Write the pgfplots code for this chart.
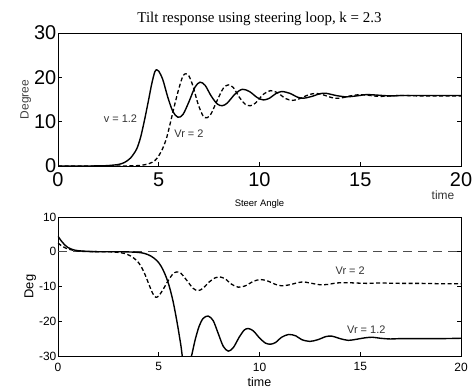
\documentclass[border=0pt]{standalone}
\usepackage{fontspec}
\setmainfont{Liberation Sans}
\newfontfamily\serifttl{Liberation Serif}
\usepackage{pgfplots}
\pgfplotsset{compat=1.18}
\begin{document}
\begin{tikzpicture}
\path[use as bounding box] (0bp,0bp) rectangle (472bp,389bp);
\pgfplotsset{
  common/.style={
    scale only axis, width=403bp, anchor=south west,
    xmin=0, xmax=20, xtick={0,5,10,15,20},
    tick align=inside, tick pos=both, major tick length=4bp,
    axis line style={line width=0.9pt}, every tick/.style={black, line width=0.8pt},
    /pgf/number format/assume math mode=true,
    clip=true,
    xtick pos=bottom,
  },
}
\begin{axis}[common, at={(58bp,223bp)}, height=133bp,
  ymin=0, ymax=30, ytick={0,10,20,30},
  ticklabel style={font=\fontsize{20}{20}\selectfont, inner sep=1.5pt},
  xticklabel style={yshift=-5bp},
  ylabel={Degree}, ylabel style={font=\fontsize{12}{12}\selectfont, text=black!75, yshift=-2bp},
  title={\serifttl Tilt response using steering loop, k = 2.3},
  title style={font=\fontsize{15}{15}\selectfont, yshift=-2bp},
]
\addplot[black, line width=1.4pt, smooth, tension=0.5] coordinates {
(0,0) (1,0) (2,0.02) (2.5,0.1) (3,0.35) (3.3,0.8) (3.6,1.8) (3.9,3.8) (4.1,6.5) (4.3,10.5) (4.5,15) (4.65,18.5) (4.8,21.2) (4.9,21.7) (5.0,21.4) (5.2,19.5) (5.45,15.5) (5.7,12.3) (5.95,11) (6.2,11.6) (6.5,14.5) (6.8,17.8) (7.05,18.9) (7.3,18.2) (7.6,15.8) (7.9,14) (8.15,13.6) (8.4,14.2) (8.8,16.3) (9.15,17.3) (9.5,16.8) (9.9,15.4) (10.2,14.9) (10.5,15.3) (10.8,16.3) (11.1,16.8) (11.5,16.4) (11.9,15.5) (12.2,15.3) (12.6,15.7) (13.0,16.3) (13.3,16.4) (13.8,15.9) (14.3,15.6) (14.8,15.8) (15.3,16.1) (15.8,16.0) (16.5,15.8) (17,15.9) (18,15.9) (19,15.9) (20,15.9)
};
\addplot[black, line width=1.3pt, dash pattern=on 4bp off 2.5bp, smooth, tension=0.5] coordinates {
(0,0) (3,0) (4,0.1) (4.5,0.5) (4.8,1.2) (5.0,2.3) (5.2,4) (5.4,6.5) (5.6,10.2) (5.8,14) (6.0,17.5) (6.2,20.3) (6.35,20.8) (6.5,20.3) (6.7,18.0) (6.95,14.0) (7.2,11.3) (7.4,10.9) (7.6,11.8) (7.9,14.8) (8.2,17.5) (8.45,18.3) (8.7,17.7) (9.0,15.5) (9.3,13.9) (9.55,13.6) (9.8,14.2) (10.2,16.2) (10.55,17.0) (10.9,16.5) (11.3,15.2) (11.65,14.8) (12.0,15.2) (12.4,16.0) (12.8,16.4) (13.2,16.0) (13.6,15.4) (14.0,15.3) (14.5,15.8) (15,16.1) (15.5,15.9) (16,15.7) (17,15.9) (18,15.8) (19,15.8) (20,15.8)
};
\node[font=\fontsize{11}{11}\selectfont, text=black!80] at (axis cs:3.1,10.6) {v = 1.2};
\node[font=\fontsize{11}{11}\selectfont, text=black!80] at (axis cs:6.5,7.3) {Vr = 2};
\end{axis}
\node[font=\fontsize{12}{12}\selectfont, text=black!80] at (443bp,194bp) {time};
\begin{axis}[common, at={(58bp,33bp)}, height=139bp,
  ymin=-30, ymax=10, ytick={-30,-20,-10,0,10},
  ticklabel style={font=\fontsize{12}{12}\selectfont, inner sep=1.5pt},
  xticklabel style={yshift=-5bp},
  xlabel={time}, xlabel style={font=\fontsize{12.5}{12.5}\selectfont, yshift=-1bp},
  ylabel={Deg}, ylabel style={font=\fontsize{13}{13}\selectfont, yshift=-2bp},
  title={Steer Angle}, title style={font=\fontsize{9.5}{9.5}\selectfont, yshift=-1bp},
]
\addplot[black!70, line width=0.9pt, dash pattern=on 9bp off 6bp] coordinates {(0,0) (20,0)};
\addplot[black, line width=1.4pt, smooth, tension=0.5] coordinates {
(0,4.5) (0.15,3.2) (0.3,2.2) (0.5,1.2) (0.8,0.5) (1.2,0.2) (2,0) (3,0) (3.5,-0.05) (4,-0.2) (4.3,-0.5) (4.6,-1.2) (4.9,-2.5) (5.1,-4) (5.3,-6.3) (5.5,-9.5) (5.7,-14) (5.9,-20) (6.1,-27) (6.2,-31) (6.4,-32.5) (6.6,-30.5) (6.8,-25.5) (7.0,-21.5) (7.2,-19.2) (7.45,-18.5) (7.7,-19.8) (7.95,-23.5) (8.2,-27.2) (8.45,-28.6) (8.7,-27.6) (9.0,-24.5) (9.25,-22.5) (9.45,-22.1) (9.7,-22.8) (10.0,-24.8) (10.3,-26.3) (10.55,-26.6) (10.8,-26.1) (11.1,-24.6) (11.45,-23.8) (11.8,-24.2) (12.1,-25.3) (12.5,-25.8) (12.9,-25.3) (13.3,-24.4) (13.6,-24.3) (14.0,-25.0) (14.4,-25.5) (14.8,-25.2) (15.2,-24.8) (15.6,-24.6) (16,-24.9) (16.5,-25.1) (17,-25.0) (18,-25.0) (19,-25.0) (20,-24.9)
};
\addplot[black, line width=1.3pt, dash pattern=on 4bp off 2.5bp, smooth, tension=0.5] coordinates {
(0,2.5) (0.2,1.6) (0.4,1.0) (0.7,0.5) (1,0.2) (1.5,0.05) (2.5,0) (3,-0.2) (3.3,-0.5) (3.6,-1.2) (3.9,-2.5) (4.1,-4) (4.3,-6.3) (4.5,-9.2) (4.7,-12) (4.85,-13.1) (5.0,-12.7) (5.2,-11) (5.45,-8.5) (5.7,-6.4) (5.9,-5.8) (6.1,-6.2) (6.4,-8.3) (6.7,-10.5) (6.95,-11.2) (7.2,-10.5) (7.5,-8.7) (7.8,-7.5) (8.0,-7.2) (8.3,-7.8) (8.6,-9.3) (8.95,-10.2) (9.3,-9.8) (9.7,-8.5) (10.05,-8.0) (10.4,-8.4) (10.8,-9.4) (11.1,-9.8) (11.5,-9.5) (11.9,-8.9) (12.2,-8.7) (12.6,-9.1) (13.0,-9.5) (13.4,-9.4) (13.8,-9.0) (14.3,-8.9) (14.8,-9.0) (15.3,-9.1) (16,-9.0) (17,-9.1) (18,-9.1) (19,-9.2) (20,-9.2)
};
\node[font=\fontsize{11}{11}\selectfont, text=black!80] at (axis cs:14.5,-5.4) {Vr = 2};
\node[font=\fontsize{11}{11}\selectfont, text=black!80] at (axis cs:15.3,-22.5) {Vr = 1.2};
\end{axis}
\end{tikzpicture}
\end{document}
